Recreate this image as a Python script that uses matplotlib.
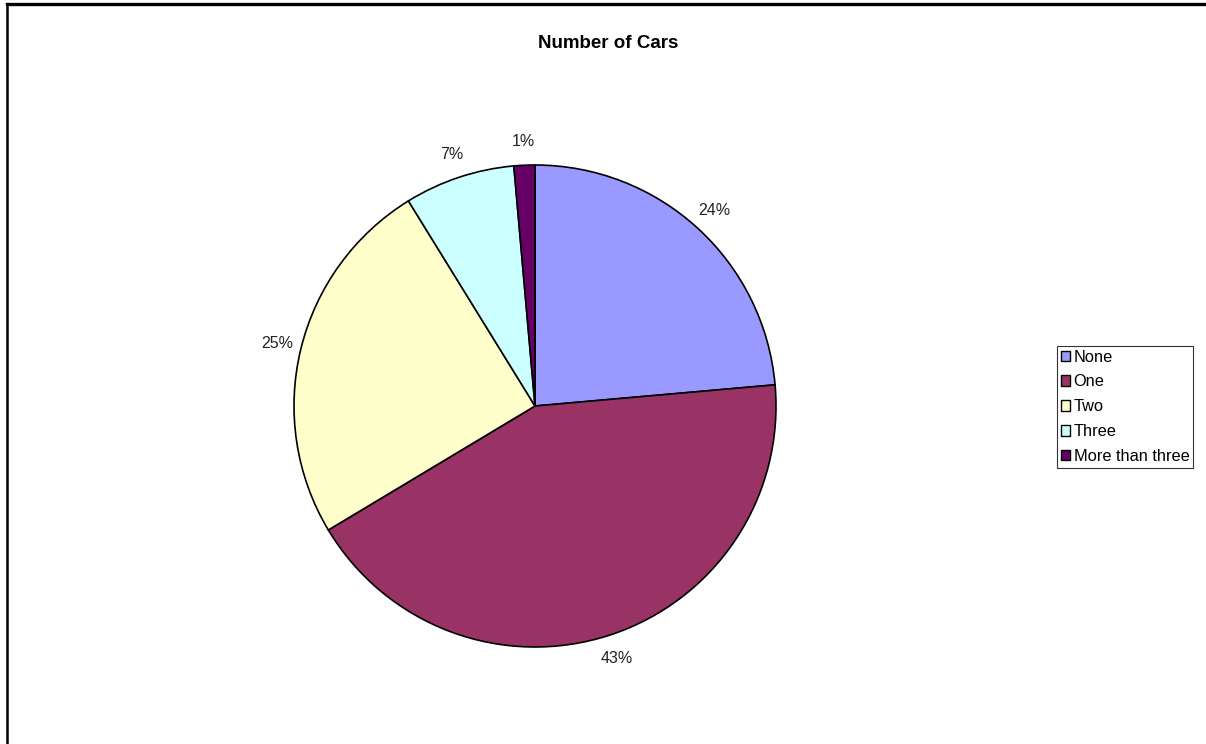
import matplotlib
matplotlib.use("Agg")
import matplotlib.pyplot as plt
from matplotlib.lines import Line2D

plt.rcParams['font.family'] = ['Liberation Sans', 'DejaVu Sans']

categories = ["None", "One", "Two", "Three", "More than three"]
values = [23.6, 42.8, 24.8, 7.4, 1.4]
colors = ["#9999FF", "#993366", "#FFFFCC", "#CCFFFF", "#660066"]
title = "Number of Cars"

W, H = 1206, 744
fig = plt.figure(figsize=(W / 100, H / 100), dpi=100)
fig.patch.set_facecolor("white")

# outer frame: top and left edges only visible
fig.add_artist(Line2D([6.5 / W, 1.0], [1 - 3.5 / H, 1 - 3.5 / H],
                      transform=fig.transFigure, color="black", linewidth=2.4))
fig.add_artist(Line2D([6.5 / W, 6.5 / W], [0, 1 - 3.5 / H],
                      transform=fig.transFigure, color="black", linewidth=1.8))

cx, cy, r = 535, 406, 241
ax = fig.add_axes([(cx - r) / W, (H - cy - r) / H, 2 * r / W, 2 * r / H])
wedges, texts, autotexts = ax.pie(
    values, colors=colors, startangle=90, counterclock=False,
    autopct='%.0f%%', pctdistance=1.10, radius=1,
    wedgeprops=dict(edgecolor="black", linewidth=1.2),
    textprops=dict(fontsize=11.5, color="#222222"))
ax.set_xlim(-1, 1)
ax.set_ylim(-1, 1)
ax.set_aspect("equal")
ax.axis("off")

fig.text(608 / W, 1 - 44 / H, title, ha="center", va="center",
         fontsize=13.5, fontweight="bold")

leg = fig.legend(wedges, categories, loc="upper left",
                 bbox_to_anchor=(1057 / W, 1 - 346 / H),
                 fontsize=11.8, frameon=True, fancybox=False, shadow=False,
                 handlelength=0.6, handleheight=0.6, handletextpad=0.2,
                 labelspacing=0.6, borderpad=0.22, borderaxespad=0)
leg.get_frame().set_edgecolor("black")
leg.get_frame().set_linewidth(0.8)
for h in leg.legend_handles:
    h.set_linewidth(1.0)
    h.set_edgecolor("black")

fig.savefig("out.png", dpi=100)
